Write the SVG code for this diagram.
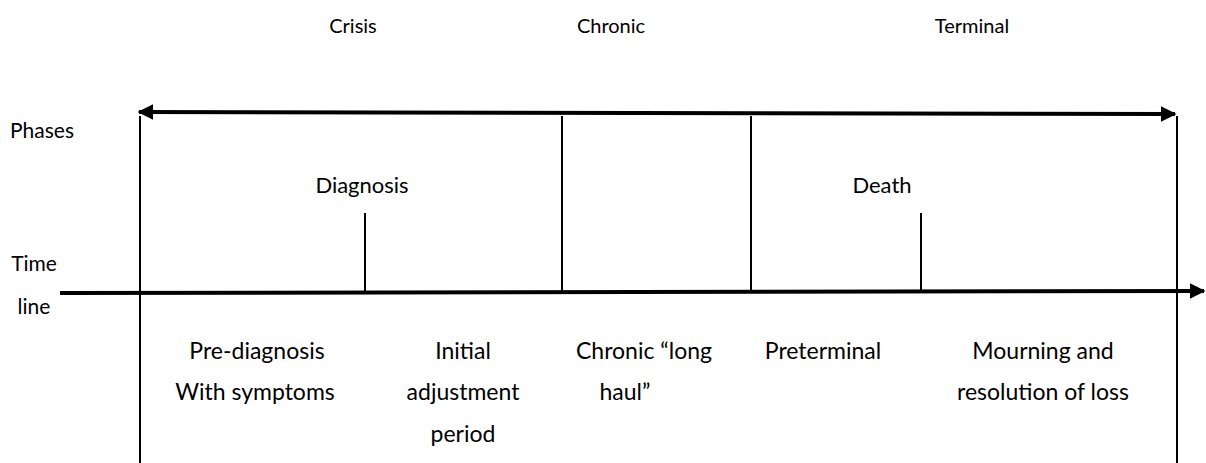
<svg xmlns="http://www.w3.org/2000/svg" width="1206" height="463" viewBox="0 0 1206 463">
<style>
text{font-family:Lato,"Liberation Sans",sans-serif;font-size:21px;fill:#000;text-anchor:middle}
.l{text-anchor:start}
.top{font-size:20px}
.mid{font-size:22px}
.big{font-size:23px}
.thin{stroke:#000;stroke-width:2;fill:none}
.thick{stroke:#000;stroke-width:4;fill:none}
</style>
<defs>
<marker id="ah" viewBox="0 0 10 10" refX="9" refY="5" markerWidth="4" markerHeight="4.2" orient="auto-start-reverse" markerUnits="strokeWidth">
<path d="M0,0 L10,5 L0,10 Z" fill="#000"/>
</marker>
</defs>
<rect width="1206" height="463" fill="#fff"/>
<g id="connectors">
<line class="thick" x1="139" y1="112" x2="1175" y2="114" marker-start="url(#ah)" marker-end="url(#ah)"/>
<line class="thick" x1="60" y1="293" x2="1204" y2="291" marker-end="url(#ah)"/>
<line class="thin" x1="140" y1="116" x2="140" y2="463"/>
<line class="thin" x1="1177" y1="116" x2="1177" y2="463"/>
<line class="thin" x1="562" y1="116" x2="562" y2="291"/>
<line class="thin" x1="751" y1="116" x2="751" y2="291"/>
<line class="thin" x1="365" y1="213" x2="365" y2="291"/>
<line class="thin" x1="921" y1="213" x2="921" y2="291"/>
</g>
<g id="phase-crisis"><text class="top" x="353" y="33">Crisis</text></g>
<g id="phase-chronic"><text class="top" x="611" y="33">Chronic</text></g>
<g id="phase-terminal"><text class="top" x="972" y="33">Terminal</text></g>
<g id="label-phases"><text class="l" x="10" y="138">Phases</text></g>
<g id="label-diagnosis"><text class="mid" x="362" y="193">Diagnosis</text></g>
<g id="label-death"><text class="mid" x="882" y="193">Death</text></g>
<g id="label-timeline"><text x="34" y="271">Time</text><text x="34" y="314">line</text></g>
<g id="period-prediagnosis"><text class="big" x="257" y="359">Pre-diagnosis</text><text class="big" x="255" y="400">With symptoms</text></g>
<g id="period-initial"><text class="big" x="463" y="359">Initial</text><text class="big" x="463" y="400">adjustment</text><text class="big" x="463" y="442">period</text></g>
<g id="period-chronic"><text class="big" x="644" y="359">Chronic “long</text><text class="big" x="625" y="400">haul”</text></g>
<g id="period-preterminal"><text class="big" x="823" y="359">Preterminal</text></g>
<g id="period-mourning"><text class="big" x="1043" y="359">Mourning and</text><text class="big" x="1043" y="400">resolution of loss</text></g>
</svg>
